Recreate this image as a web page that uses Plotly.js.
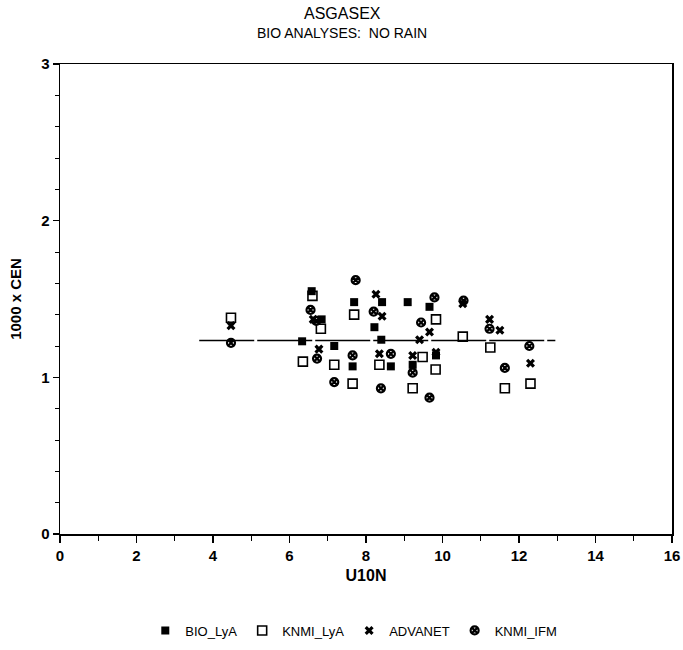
<!DOCTYPE html>
<html>
<head>
<meta charset="utf-8">
<script src="https://cdn.plot.ly/plotly-3.0.1.min.js"></script>
<style>html,body{margin:0;padding:0;background:#fff;}#chart{width:683px;height:650px;}</style>
</head>
<body>
<div id="chart"></div>
<script>
const bioX = [6.33, 6.58, 6.84, 7.17, 7.65, 7.69, 8.22, 8.42, 8.40, 8.65, 9.09, 9.22, 9.66, 9.83];
const bioY = [1.23, 1.55, 1.37, 1.20, 1.07, 1.48, 1.32, 1.48, 1.24, 1.07, 1.48, 1.08, 1.45, 1.14];

const knmiLyaX = [4.47, 6.35, 6.60, 6.82, 7.17, 7.65, 7.69, 8.35, 9.22, 9.48, 9.82, 9.83, 10.53, 11.25, 11.63, 12.30];
const knmiLyaY = [1.38, 1.10, 1.52, 1.31, 1.08, 0.96, 1.40, 1.08, 0.93, 1.13, 1.05, 1.37, 1.26, 1.19, 0.93, 0.96];

const advX = [4.47, 6.62, 6.77, 8.26, 8.42, 8.35, 9.22, 9.40, 9.66, 9.83, 10.53, 11.23, 11.50, 12.30];
const advY = [1.33, 1.37, 1.18, 1.53, 1.39, 1.15, 1.14, 1.24, 1.29, 1.16, 1.47, 1.37, 1.30, 1.09];

const ifmX = [4.47, 6.55, 6.70, 6.72, 7.17, 7.65, 7.73, 8.20, 8.39, 8.65, 9.22, 9.44, 9.66, 9.79, 10.55, 11.23, 11.63, 12.27];
const ifmY = [1.22, 1.43, 1.36, 1.12, 0.97, 1.14, 1.62, 1.42, 0.93, 1.15, 1.03, 1.35, 0.87, 1.51, 1.49, 1.31, 1.06, 1.20];

const meanX = [3.64, 12.95];
const meanY = [1.235, 1.235];

const xTickVals = [0, 2, 4, 6, 8, 10, 12, 14, 16];
const xTickLabels = ["0", "2", "4", "6", "8", "10", "12", "14", "16"];
const yTickVals = [0, 1, 2, 3];
const yTickLabels = ["0", "1", "2", "3"];

const seriesNames = ["BIO_LyA", "KNMI_LyA", "ADVANET", "KNMI_IFM"];
const titleText = "ASGASEX";
const subtitleText = "BIO ANALYSES:  NO RAIN";

const font = "'Liberation Sans', Arial, sans-serif";
const bold = s => "<b>" + s + "</b>";

const traces = [
  {x: meanX, y: meanY, mode: "lines", showlegend: false, hoverinfo: "skip",
   line: {color: "#000", width: 1.6, dash: "55px,3px"}},
  {x: bioX, y: bioY, mode: "markers", name: seriesNames[0],
   marker: {symbol: "square", size: 8, color: "#000"}},
  {x: knmiLyaX, y: knmiLyaY, mode: "markers", name: seriesNames[1],
   marker: {symbol: "square-open", size: 9, color: "#000", line: {width: 1.6}}},
  {x: advX, y: advY, mode: "markers", name: seriesNames[2],
   marker: {symbol: "x", size: 8, color: "#000"}},
  {x: ifmX, y: ifmY, mode: "markers", name: seriesNames[3],
   marker: {symbol: "circle-x-open", size: 8, color: "#000", line: {color: "#000", width: 2.2}}}
];

const tickFont = {family: font, size: 15, color: "#000", weight: 700};

const layout = {
  width: 683, height: 650,
  margin: {l: 60, r: 11, t: 64, b: 116},
  paper_bgcolor: "#fff", plot_bgcolor: "#fff",
  showlegend: true,
  annotations: [
    {text: titleText, xref: "paper", yref: "paper", x: 0.461, y: 1.1085,
     xanchor: "center", yanchor: "middle", showarrow: false,
     font: {family: font, size: 16, color: "#000"}},
    {text: subtitleText, xref: "paper", yref: "paper", x: 0.461, y: 1.066,
     xanchor: "center", yanchor: "middle", showarrow: false,
     font: {family: font, size: 14, color: "#000"}}
  ],
  xaxis: {
    range: [0, 16], tickmode: "array", tickvals: xTickVals, ticktext: xTickLabels.map(bold),
    showgrid: false, zeroline: false,
    showline: true, mirror: true, linecolor: "#000", linewidth: 1.5,
    ticks: "outside", ticklen: 7, tickwidth: 1.2, tickcolor: "#000",
    minor: {dtick: 1, tick0: 0, ticks: "outside", ticklen: 5, tickcolor: "#000", tickwidth: 1.2, showgrid: false},
    tickfont: tickFont,
    title: {text: "<b>U10N</b>", font: {family: font, size: 16, color: "#000"}, standoff: 7}
  },
  yaxis: {
    range: [0, 3], tickmode: "array", tickvals: yTickVals, ticktext: yTickLabels.map(bold),
    showgrid: false, zeroline: false,
    showline: true, mirror: true, linecolor: "#000", linewidth: 1.5,
    ticks: "outside", ticklen: 6, tickwidth: 1.2, tickcolor: "#000",
    minor: {dtick: 0.2, tick0: 0, ticks: "outside", ticklen: 4, tickcolor: "#000", tickwidth: 1, showgrid: false},
    tickfont: tickFont,
    title: {text: "<b>1000 x CEN</b>", font: {family: font, size: 15, color: "#000"}, standoff: 16}
  },
  legend: {
    orientation: "h", x: 0.518, xref: "container", xanchor: "center",
    y: 0.03, yref: "container", yanchor: "middle",
    font: {family: font, size: 13, color: "#000"},
    itemwidth: 30, tracegroupgap: 0
  }
};

Plotly.newPlot("chart", traces, layout, {displayModeBar: false, staticPlot: true});
</script>
</body>
</html>
